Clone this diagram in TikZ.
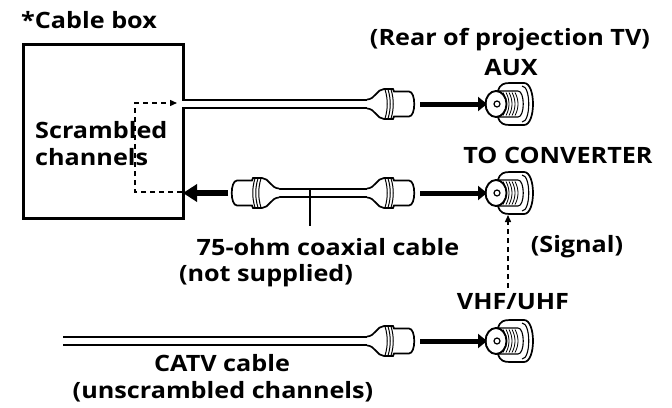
\documentclass[tikz,border=0pt]{standalone}
\usepackage{fontspec}
\setmainfont{Open Sans}[FakeStretch=1.12]
\usetikzlibrary{arrows.meta}
\tikzset{
  x=1pt, y=-1pt,
  lbl/.style={font=\bfseries\fontsize{22.5}{27}\selectfont, inner sep=0pt},
  cable/.style={line width=1.7pt, double=white, double distance=6pt},
  plugarrow/.style={line width=5pt, -{Triangle[width=14pt,length=9pt]}},
  bigarrow/.style={line width=5.5pt, -{Triangle[width=17pt,length=14pt]}},
  sig/.style={line width=1.4pt, dash pattern=on 5pt off 4pt},
  leader/.style={line width=1.8pt},
  plug/.pic={
    \filldraw[fill=white, line width=1.7pt]
      (-48,-4.5) .. controls (-40,-4.5) and (-38,-15) .. (-31,-15)
      -- (-22,-15) -- (-21,-12.5) -- (-6,-12.5)
      .. controls (1,-12.5) and (1,12.5) .. (-6,12.5)
      -- (-21,12.5) -- (-22,15) -- (-31,15)
      .. controls (-38,15) and (-40,4.5) .. (-48,4.5);
    \foreach \r in {-30,-27,-24}
      \draw[line width=1pt] (\r,-14.5) .. controls (\r+3,-5) and (\r+3,5) .. (\r,14.5);
  },
  jack/.pic={
    \filldraw[fill=white, line width=1.7pt]
      (2,-13) .. controls (4,-20) and (8,-21) .. (14,-21) -- (28,-21)
      .. controls (40,-21) and (40,21) .. (28,21) -- (14,21)
      .. controls (8,21) and (4,20) .. (2,13);
    \draw[line width=1.1pt] (26,-18) .. controls (35,-18) and (35,18) .. (26,18);
    \draw[line width=1.1pt] (0,-13) -- (22,-13) .. controls (29,-13) and (29,13) .. (22,13) -- (0,13);
    \foreach \r in {7,10,13,16,19}
      \draw[line width=0.8pt] (\r,-11.5) .. controls (\r+4,-4) and (\r+4,4) .. (\r,11.5);
    \filldraw[fill=white, line width=1.9pt] (0,0) ellipse [x radius=10.5pt, y radius=13pt];
    \draw[line width=1.2pt] (1,0) circle [radius=3pt];
  }
}
\begin{document}
\begin{tikzpicture}
\useasboundingbox (0,0) rectangle (672,407);

% cable box
\node[draw, line width=2.5pt, minimum width=160pt, minimum height=174pt,
      anchor=north west, inner sep=0pt] (cablebox) at (22,43) {};
\node[lbl, anchor=west] (boxtitle) at (21,20) {*Cable box};
\node[lbl, anchor=west, align=left] (scr) at (35,144) {Scrambled\\channels};

% coordinates
\coordinate (c1L) at (182,104);
\coordinate (c1R) at (367,104);
\coordinate (p1) at (415,104);
\coordinate (a1s) at (420,104);
\coordinate (j1) at (496,104);
\coordinate (j1w) at (487,104);

\coordinate (p2L) at (231,193);
\coordinate (c2L) at (279,193);
\coordinate (c2R) at (367,193);
\coordinate (p2) at (415,193);
\coordinate (a2s) at (420,193);
\coordinate (j2) at (496,193);
\coordinate (j2w) at (487,193);
\coordinate (la) at (228,193);
\coordinate (boxin) at (183,193);

\coordinate (c3L) at (63,341);
\coordinate (c3R) at (367,341);
\coordinate (p3) at (415,341);
\coordinate (a3s) at (420,341);
\coordinate (j3) at (496,341);
\coordinate (j3w) at (487,341);

% cables
\draw[cable] (c1L) -- (c1R);
\draw[cable] (c2L) -- (c2R);
\draw[cable] (c3L) -- (c3R);

% plugs
\pic at (p1) {plug};
\pic at (p2) {plug};
\pic[xscale=-1] at (p2L) {plug};
\pic at (p3) {plug};

% jacks
\pic at (j1) {jack};
\pic at (j2) {jack};
\pic at (j3) {jack};

% arrows
\draw[plugarrow] (a1s) -- (j1w);
\draw[plugarrow] (a2s) -- (j2w);
\draw[plugarrow] (a3s) -- (j3w);
\draw[bigarrow] (la) -- (boxin);

% dashed path inside box
\coordinate (d1) at (182,192);
\coordinate (d2) at (135,192);
\coordinate (d3) at (135,103);
\coordinate (d4) at (177,103);
\draw[sig, -{Triangle[width=6pt,length=7pt]}] (d1) -- (d2) -- (d3) -- (d4);

% signal dashed arrow
\coordinate (s1) at (508,288);
\coordinate (s2) at (508,215);
\draw[sig, -{Triangle[width=6pt,length=7pt]}] (s1) -- (s2);

% leader
\coordinate (l1) at (310,188);
\coordinate (l2) at (310,226);
\draw[leader] (l1) -- (l2);

% labels
\node[lbl] (rear) at (510,40) {(Rear of projection TV)};
\node[lbl] (aux) at (511,68) {AUX};
\node[lbl] (toconv) at (558,155) {TO CONVERTER};
\node[lbl] (coax) at (328,247) {75-ohm coaxial cable};
\node[lbl] (notsup) at (266,276) {(not supplied)};
\node[lbl] (signal) at (577,247) {(Signal)};
\node[lbl] (vhf) at (513,302) {VHF/UHF};
\node[lbl] (catv) at (222,363) {CATV cable};
\node[lbl] (unscr) at (223,392) {(unscrambled channels)};
\end{tikzpicture}
\end{document}
